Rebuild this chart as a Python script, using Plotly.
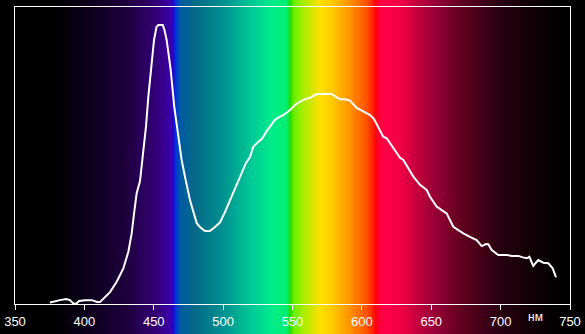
import plotly.graph_objects as go

# Emission spectrum (nm, relative intensity)
WAVELENGTH = [375.2, 378.8, 382.4, 386.8, 389.6, 391.8, 394.0, 396.1, 400.5, 405.5, 409.1, 411.3,
              414.9, 418.5, 423.3, 428.1, 431.7, 434.1, 435.8, 437.7, 440.1, 442.5, 444.4, 446.1,
              448.0, 450.2, 452.0, 453.3, 456.5, 457.7, 459.3, 462.2, 464.8, 467.7, 470.1, 472.5,
              476.1, 481.0, 483.3, 486.9, 490.5, 494.1, 497.7, 501.4, 505.0, 508.6, 512.2, 516.5,
              519.4, 521.7, 525.1, 528.0, 531.4, 533.8, 537.4, 541.0, 543.4, 548.2, 551.8, 555.4,
              559.0, 562.6, 567.4, 571.3, 578.2, 580.6, 584.2, 587.8, 591.4, 596.3, 600.1, 605.9,
              608.7, 611.8, 615.4, 617.9, 620.3, 623.9, 627.5, 629.9, 633.2, 637.1, 641.9, 646.7,
              649.1, 653.9, 657.5, 661.1, 665.9, 669.3, 673.1, 677.9, 682.7, 686.4, 689.5, 691.1,
              693.6, 698.3, 704.4, 708.2, 712.7, 716.1, 718.8, 720.7, 723.5, 727.1, 730.8, 734.4,
              737.5, 739.9]
INTENSITY = [0.5, 1.0, 1.3, 1.7, 1.3, 0.3, 0.0, 1.0, 1.3, 1.3, 0.7, 0.7,
             2.4, 4.0, 7.5, 12.0, 17.6, 23.8, 30.5, 37.3, 41.4, 50.7, 59.7, 69.8,
             79.9, 88.9, 93.3, 93.9, 93.9, 92.3, 88.9, 78.8, 66.4, 56.3, 48.5, 42.9,
             35.0, 27.2, 25.9, 24.6, 24.6, 25.9, 27.4, 31.0, 35.0, 39.1, 42.8, 47.5,
             49.5, 52.9, 54.5, 55.6, 58.2, 59.6, 62.0, 63.1, 63.6, 65.3, 67.0, 68.1,
             69.0, 69.4, 70.7, 70.7, 70.7, 70.0, 68.9, 68.9, 68.5, 66.0, 65.0, 63.6,
             62.3, 59.7, 56.3, 55.8, 54.2, 51.9, 49.2, 48.5, 45.8, 42.9, 40.1, 38.4,
             36.1, 32.8, 31.6, 30.5, 26.0, 24.9, 23.8, 22.6, 21.5, 19.5, 20.2, 20.1,
             18.2, 16.5, 16.5, 16.2, 16.2, 15.7, 15.4, 15.9, 12.8, 14.8, 13.9, 13.7,
             12.0, 9.0]

TICKS = [350, 400, 450, 500, 550, 600, 650, 700, 750]
UNIT_LABEL = "нм"

# Background visible-spectrum colour stops
SPECTRUM_NM = [339, 378, 400, 430, 452, 462, 464, 466, 469, 480, 500, 520, 535, 546, 548.5, 551,
               556, 570, 578, 590, 603, 608, 610, 612, 616, 628, 650, 672, 700, 722, 745, 761]
SPECTRUM_COLORS = ["#000000", "#000000", "#0a0018", "#1e003c", "#330078", "#3a00a8", "#2a00c8",
                   "#0030dd", "#005aa0", "#056a88", "#009090", "#00c896", "#00ec8c", "#00ee70",
                   "#22dd00", "#66ee00", "#99ee00", "#ffe000", "#ffcc00", "#ff9900", "#ff5500",
                   "#ff2200", "#ff0010", "#ff0030", "#ff0048", "#f00044", "#a00038", "#600020",
                   "#280010", "#100005", "#000000", "#000000"]

zmin, zmax = SPECTRUM_NM[0], SPECTRUM_NM[-1]
colorscale = [[(w - zmin) / (zmax - zmin), c] for w, c in zip(SPECTRUM_NM, SPECTRUM_COLORS)]

W, H = 585, 334
L, R, T, B = 15, 570, 7, 304
x2_range = [350, 750]
scale = (R - L) / (x2_range[1] - x2_range[0])
full_range = [x2_range[0] - L / scale, x2_range[1] + (W - R) / scale]

grid = [round(full_range[0] + i * 0.5, 2) for i in range(int((full_range[1] - full_range[0]) / 0.5) + 2)]

fig = go.Figure()
fig.add_trace(go.Heatmap(
    x=grid, y=[0, 1], z=[grid, grid], zmin=zmin, zmax=zmax,
    colorscale=colorscale, showscale=False, hoverinfo="skip",
    xaxis="x", yaxis="y",
))
fig.add_trace(go.Scatter(
    x=WAVELENGTH, y=INTENSITY, mode="lines",
    line=dict(color="white", width=2), xaxis="x2", yaxis="y2", showlegend=False,
))

fig.update_layout(
    width=W, height=H, autosize=False,
    margin=dict(l=0, r=0, t=0, b=0, pad=0, autoexpand=False),
    paper_bgcolor="black", plot_bgcolor="rgba(0,0,0,0)",
    showlegend=False,
    xaxis=dict(domain=[0, 1], range=full_range, visible=False, fixedrange=True, automargin=False),
    yaxis=dict(domain=[0, 1], range=[0, 1], visible=False, fixedrange=True, automargin=False),
    xaxis2=dict(domain=[L / W, R / W], range=x2_range, anchor="y2", automargin=False,
                tickvals=TICKS, ticktext=[str(t) for t in TICKS],
                ticks="outside", ticklen=5, tickcolor="white", tickwidth=1,
                tickfont=dict(color="white", size=13, family="Liberation Sans, Arial"),
                showline=True, linecolor="white", linewidth=1, mirror=True,
                showgrid=False, zeroline=False),
    yaxis2=dict(domain=[(H - B) / H, (H - T) / H], range=[0, 100], anchor="x2", automargin=False,
                showticklabels=False, ticks="", showline=True, linecolor="white",
                linewidth=1, mirror=True, showgrid=False, zeroline=False),
    annotations=[dict(text=UNIT_LABEL, x=724.8, y=(H - 317) / H, xref="x2", yref="paper",
                      yanchor="middle", showarrow=False,
                      font=dict(color="white", size=12, family="Liberation Sans, Arial"))],
)

fig.write_html("out.html")
